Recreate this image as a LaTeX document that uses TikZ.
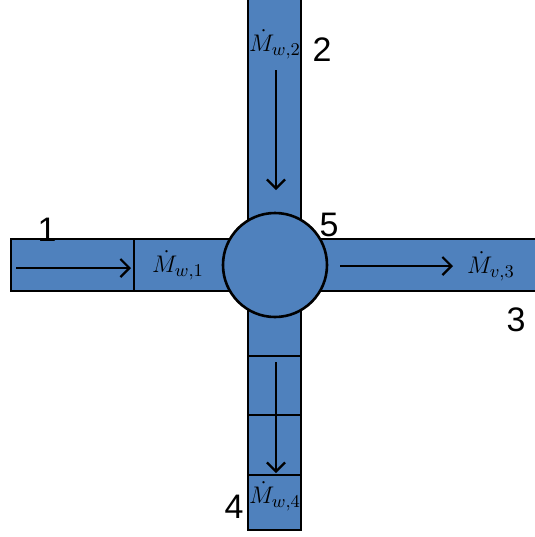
\documentclass[tikz,border=0pt]{standalone}
\usepackage{fontspec}
\usetikzlibrary{arrows.meta}
\newfontfamily\labelfont{Liberation Sans}
\definecolor{pipeblue}{RGB}{79,129,189}
\tikzset{
  pipe/.style={draw=black, line width=1.3pt, fill=pipeblue},
  wall/.style={line width=1.3pt},
  flow/.style={->, line width=1.1pt},
  portnum/.style={font=\labelfont\fontsize{17}{20}\selectfont, inner sep=0pt},
  rate/.style={font=\fontsize{13}{15}\selectfont, inner sep=0pt}
}
\begin{document}
\begin{tikzpicture}[x=0.5pt, y=-0.5pt, >={Straight Barb[length=4.5pt, width=9pt]}]
  \useasboundingbox (0,0) rectangle (535,537);
  \clip (0,0) rectangle (535,537);

  % Rohre
  \draw[pipe] (11,239) rectangle (250,291);
  \draw[pipe] (300,239) rectangle (560,291);
  \draw[pipe] (248,-20) rectangle (301,530);

  % Trennwände
  \draw[wall] (134,239) -- (134,291);
  \foreach \y in {356,415,475}
    \draw[wall] (248,\y) -- (301,\y);

  % Knoten
  \node[pipe, circle, inner sep=0pt, minimum size=52pt] (junction) at (275,265) {};

  % Strömungspfeile
  \coordinate (in1a) at (16,268);   \coordinate (in1b) at (131,268);
  \coordinate (in2a) at (276,70);   \coordinate (in2b) at (276,190);
  \coordinate (out3a) at (340,266); \coordinate (out3b) at (453,266);
  \coordinate (out4a) at (276,362); \coordinate (out4b) at (276,473);
  \draw[flow] (in1a) -- (in1b);
  \draw[flow] (in2a) -- (in2b);
  \draw[flow] (out3a) -- (out3b);
  \draw[flow] (out4a) -- (out4b);

  % Massenströme
  \node[rate] (m1) at (178,265) {$\dot M_{w,1}$};
  \node[rate] (m2) at (275,44) {$\dot M_{w,2}$};
  \node[rate] (m3) at (491,266) {$\dot M_{v,3}$};
  \node[rate] (m4) at (275,496) {$\dot M_{w,4}$};

  % Anschlussnummern
  \node[portnum] (p1) at (47,230) {1};
  \node[portnum] (p2) at (322,50) {2};
  \node[portnum] (p3) at (516,320) {3};
  \node[portnum] (p4) at (234,507) {4};
  \node[portnum] (p5) at (329,225) {5};
\end{tikzpicture}
\end{document}
